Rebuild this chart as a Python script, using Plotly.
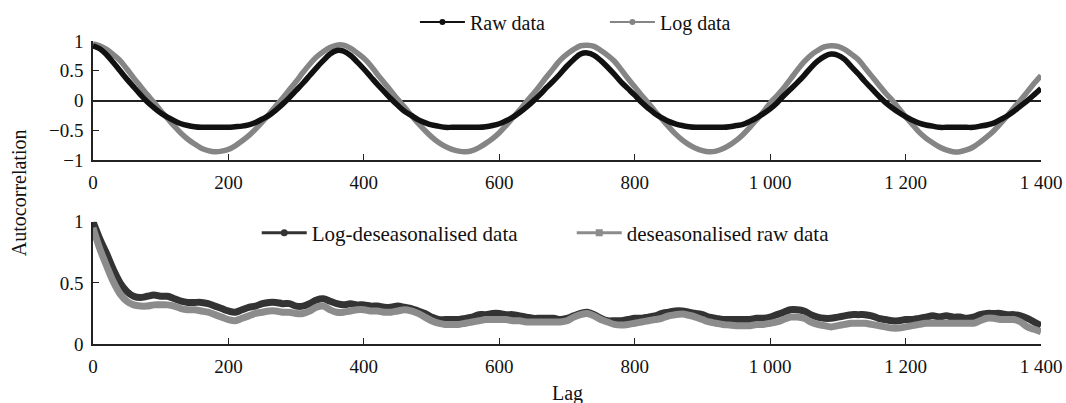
import plotly.graph_objects as go

lags = list(range(0, 1401, 10))

raw_data = [
    0.92, 0.87, 0.77, 0.64, 0.50, 0.36, 0.23, 0.10, -0.02, -0.12,
    -0.21, -0.28, -0.34, -0.39, -0.42, -0.44, -0.45, -0.45, -0.45, -0.45,
    -0.45, -0.44, -0.43, -0.41, -0.37, -0.31, -0.25, -0.16, -0.06, 0.05,
    0.17, 0.29, 0.42, 0.55, 0.67, 0.78, 0.84, 0.83, 0.76, 0.65,
    0.53, 0.40, 0.27, 0.15, 0.03, -0.08, -0.18, -0.25, -0.32, -0.37,
    -0.41, -0.43, -0.45, -0.45, -0.45, -0.45, -0.45, -0.45, -0.44, -0.42,
    -0.39, -0.34, -0.28, -0.20, -0.11, -0.01, 0.10, 0.22, 0.33, 0.45,
    0.58, 0.69, 0.78, 0.80, 0.76, 0.67, 0.56, 0.44, 0.31, 0.20,
    0.09, -0.03, -0.13, -0.22, -0.29, -0.35, -0.39, -0.42, -0.44, -0.45,
    -0.45, -0.45, -0.45, -0.45, -0.44, -0.42, -0.40, -0.35, -0.29, -0.22,
    -0.14, -0.04, 0.08, 0.19, 0.30, 0.42, 0.55, 0.66, 0.74, 0.78,
    0.76, 0.69, 0.57, 0.45, 0.32, 0.20, 0.08, -0.03, -0.12, -0.20,
    -0.27, -0.33, -0.38, -0.41, -0.43, -0.45, -0.45, -0.45, -0.45, -0.45,
    -0.45, -0.43, -0.41, -0.38, -0.32, -0.26, -0.18, -0.09, 0.00, 0.10,
    0.20,
]

log_data = [
    0.95, 0.92, 0.86, 0.77, 0.67, 0.53, 0.38, 0.24, 0.10, -0.03,
    -0.17, -0.30, -0.43, -0.55, -0.65, -0.73, -0.80, -0.84, -0.86, -0.85,
    -0.82, -0.76, -0.68, -0.59, -0.48, -0.36, -0.23, -0.09, 0.04, 0.18,
    0.32, 0.47, 0.61, 0.73, 0.82, 0.89, 0.93, 0.93, 0.88, 0.80,
    0.71, 0.59, 0.44, 0.30, 0.16, 0.02, -0.11, -0.25, -0.38, -0.50,
    -0.61, -0.70, -0.77, -0.82, -0.85, -0.86, -0.84, -0.79, -0.72, -0.64,
    -0.54, -0.42, -0.29, -0.16, -0.02, 0.11, 0.25, 0.40, 0.54, 0.68,
    0.78, 0.86, 0.92, 0.93, 0.91, 0.84, 0.76, 0.66, 0.52, 0.37,
    0.23, 0.09, -0.04, -0.18, -0.31, -0.44, -0.56, -0.66, -0.74, -0.80,
    -0.84, -0.86, -0.85, -0.81, -0.75, -0.67, -0.57, -0.45, -0.32, -0.19,
    -0.04, 0.08, 0.21, 0.36, 0.51, 0.65, 0.76, 0.84, 0.90, 0.92,
    0.91, 0.86, 0.78, 0.69, 0.55, 0.41, 0.27, 0.13, 0.01, -0.13,
    -0.27, -0.40, -0.53, -0.63, -0.71, -0.78, -0.83, -0.86, -0.86, -0.83,
    -0.78, -0.70, -0.61, -0.51, -0.39, -0.26, -0.12, 0.01, 0.15, 0.29,
    0.42,
]

log_deseasonalised = [
    1.00, 0.86, 0.74, 0.61, 0.50, 0.43, 0.39, 0.38, 0.39, 0.40,
    0.39, 0.39, 0.37, 0.35, 0.34, 0.34, 0.34, 0.33, 0.31, 0.29,
    0.27, 0.26, 0.28, 0.30, 0.31, 0.33, 0.34, 0.34, 0.33, 0.33,
    0.31, 0.31, 0.33, 0.36, 0.37, 0.35, 0.33, 0.32, 0.33, 0.32,
    0.32, 0.31, 0.31, 0.30, 0.30, 0.31, 0.30, 0.29, 0.27, 0.25,
    0.22, 0.20, 0.20, 0.20, 0.20, 0.21, 0.22, 0.24, 0.24, 0.25,
    0.25, 0.24, 0.24, 0.23, 0.22, 0.21, 0.21, 0.21, 0.21, 0.20,
    0.21, 0.23, 0.25, 0.26, 0.24, 0.21, 0.19, 0.19, 0.19, 0.20,
    0.21, 0.21, 0.22, 0.23, 0.25, 0.26, 0.27, 0.27, 0.26, 0.25,
    0.24, 0.22, 0.21, 0.20, 0.20, 0.20, 0.20, 0.20, 0.21, 0.21,
    0.22, 0.24, 0.26, 0.28, 0.28, 0.27, 0.24, 0.22, 0.21, 0.21,
    0.22, 0.23, 0.24, 0.24, 0.24, 0.23, 0.21, 0.20, 0.19, 0.19,
    0.20, 0.20, 0.21, 0.22, 0.23, 0.22, 0.23, 0.22, 0.22, 0.21,
    0.22, 0.24, 0.25, 0.25, 0.25, 0.24, 0.24, 0.23, 0.21, 0.18,
    0.15,
]

deseasonalised_raw = [
    0.95, 0.78, 0.64, 0.51, 0.41, 0.35, 0.32, 0.31, 0.31, 0.32,
    0.32, 0.32, 0.31, 0.29, 0.28, 0.28, 0.27, 0.26, 0.24, 0.22,
    0.20, 0.19, 0.21, 0.23, 0.25, 0.26, 0.27, 0.27, 0.26, 0.26,
    0.25, 0.25, 0.27, 0.30, 0.31, 0.28, 0.26, 0.26, 0.27, 0.28,
    0.28, 0.27, 0.27, 0.26, 0.26, 0.27, 0.28, 0.27, 0.25, 0.22,
    0.19, 0.17, 0.16, 0.16, 0.16, 0.17, 0.18, 0.19, 0.20, 0.20,
    0.20, 0.20, 0.19, 0.19, 0.18, 0.18, 0.18, 0.18, 0.18, 0.18,
    0.19, 0.22, 0.24, 0.25, 0.23, 0.20, 0.18, 0.16, 0.155, 0.16,
    0.17, 0.18, 0.19, 0.20, 0.21, 0.23, 0.24, 0.245, 0.235, 0.22,
    0.20, 0.18, 0.17, 0.16, 0.155, 0.15, 0.15, 0.15, 0.16, 0.16,
    0.17, 0.18, 0.20, 0.22, 0.22, 0.21, 0.18, 0.16, 0.15, 0.14,
    0.15, 0.16, 0.17, 0.17, 0.17, 0.16, 0.15, 0.14, 0.13, 0.13,
    0.14, 0.15, 0.16, 0.17, 0.17, 0.17, 0.17, 0.17, 0.17, 0.17,
    0.17, 0.19, 0.21, 0.21, 0.20, 0.20, 0.20, 0.18, 0.14, 0.12,
    0.10,
]

x_tickvals = [0, 200, 400, 600, 800, 1000, 1200, 1400]
x_ticktext = ["0", "200", "400", "600", "800", "1 000", "1 200", "1 400"]
top_tickvals = [-1, -0.5, 0, 0.5, 1]
top_ticktext = ["\u22121", "\u22120.5", "0", "0.5", "1"]
bottom_tickvals = [0, 0.5, 1]
bottom_ticktext = ["0", "0.5", "1"]

FONT = "Liberation Serif"
BLACK = "#111111"
GRAY_TOP = "#858585"
DARK_BOT = "#333333"
GRAY_BOT = "#8c8c8c"

fig = go.Figure()

# Top panel
fig.add_trace(go.Scatter(x=lags, y=log_data, mode="lines", line=dict(color=GRAY_TOP, width=5.5, shape="spline"),
                         showlegend=False, xaxis="x", yaxis="y"))
fig.add_trace(go.Scatter(x=lags, y=raw_data, mode="lines", line=dict(color=BLACK, width=5.5, shape="spline"),
                         showlegend=False, xaxis="x", yaxis="y"))
fig.add_trace(go.Scatter(x=[None], y=[None], mode="lines+markers", name="Raw data",
                         line=dict(color=BLACK, width=2), marker=dict(symbol="circle", size=6, color=BLACK),
                         legend="legend", xaxis="x", yaxis="y"))
fig.add_trace(go.Scatter(x=[None], y=[None], mode="lines+markers", name="Log data",
                         line=dict(color=GRAY_TOP, width=2), marker=dict(symbol="circle", size=6, color=GRAY_TOP),
                         legend="legend", xaxis="x", yaxis="y"))

# Bottom panel
fig.add_trace(go.Scatter(x=lags, y=log_deseasonalised, mode="lines", line=dict(color=DARK_BOT, width=7, shape="spline"),
                         showlegend=False, xaxis="x2", yaxis="y2"))
fig.add_trace(go.Scatter(x=lags, y=deseasonalised_raw, mode="lines", line=dict(color=GRAY_BOT, width=7, shape="spline"),
                         showlegend=False, xaxis="x2", yaxis="y2"))
fig.add_trace(go.Scatter(x=[None], y=[None], mode="lines+markers", name="Log-deseasonalised data",
                         line=dict(color=DARK_BOT, width=3), marker=dict(symbol="circle", size=7, color=DARK_BOT),
                         legend="legend2", xaxis="x2", yaxis="y2"))
fig.add_trace(go.Scatter(x=[None], y=[None], mode="lines+markers", name="deseasonalised raw data",
                         line=dict(color=GRAY_BOT, width=3), marker=dict(symbol="square", size=7, color=GRAY_BOT),
                         legend="legend2", xaxis="x2", yaxis="y2"))

axis_common = dict(showgrid=False, showline=True, linecolor="#222222", linewidth=1.5,
                   ticks="inside", ticklen=6, tickcolor="#222222", tickwidth=1.2,
                   tickfont=dict(family=FONT, size=19, color="#111111"), automargin=False)

fig.update_layout(
    width=1066, height=403,
    margin=dict(l=93, r=25, t=41, b=59, autoexpand=False),
    paper_bgcolor="white", plot_bgcolor="white",
    font=dict(family=FONT, size=20, color="#111111"),
    xaxis=dict(domain=[0, 1], anchor="y", range=[0, 1400], tickvals=x_tickvals, ticktext=x_ticktext,
               zeroline=False, ticklabelstandoff=4, **axis_common),
    yaxis=dict(domain=[0.607, 1], anchor="x", range=[-1, 1], tickvals=top_tickvals, ticktext=top_ticktext,
               zeroline=True, zerolinecolor="#222222", zerolinewidth=1.5, ticklabelstandoff=4, **axis_common),
    xaxis2=dict(domain=[0, 1], anchor="y2", range=[0, 1400], tickvals=x_tickvals, ticktext=x_ticktext,
                zeroline=False, ticklabelstandoff=4, **axis_common),
    yaxis2=dict(domain=[0, 0.4036], anchor="x2", range=[0, 1], tickvals=bottom_tickvals, ticktext=bottom_ticktext,
                zeroline=False, ticklabelstandoff=4, **axis_common),
    legend=dict(orientation="h", x=0.54, xanchor="center", y=1.063, yanchor="middle",
                itemwidth=45, entrywidth=130,
                bgcolor="rgba(0,0,0,0)", font=dict(family=FONT, size=20)),
    legend2=dict(orientation="h", x=0.505, xanchor="center", y=0.366, yanchor="middle",
                 itemwidth=45, entrywidth=255,
                 bgcolor="rgba(0,0,0,0)", font=dict(family=FONT, size=21)),
    annotations=[
        dict(text="Autocorrelation", xref="paper", yref="paper", x=-0.078, y=0.498,
             xanchor="center", yanchor="middle", textangle=-90, showarrow=False,
             font=dict(family=FONT, size=20)),
        dict(text="Lag", xref="paper", yref="paper", x=0.5, y=-0.162,
             xanchor="center", yanchor="middle", showarrow=False,
             font=dict(family=FONT, size=20)),
    ],
)

# Remove the page's default body margin so the 1066x403 figure fills the window exactly.
fig.write_html("out.html", config={"displayModeBar": False},
               post_script="document.body.style.margin='0';document.body.style.overflow='hidden';")
